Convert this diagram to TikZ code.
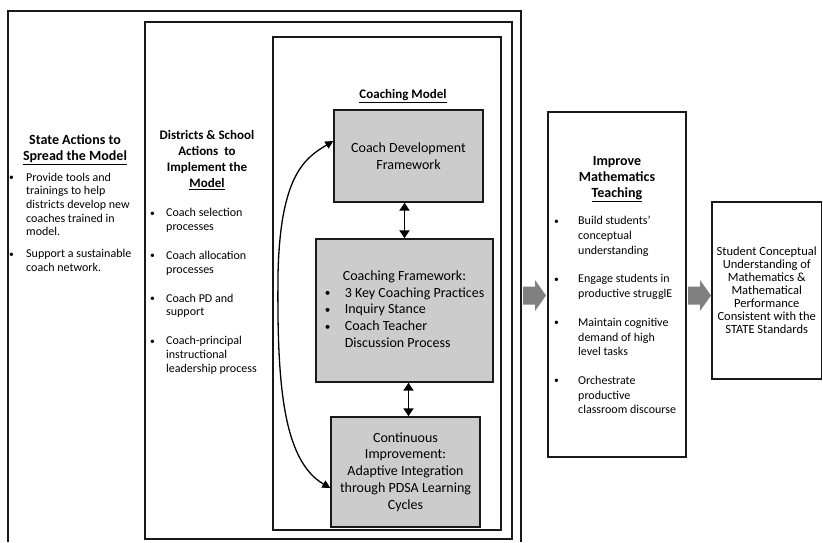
\documentclass[tikz,border=0pt]{standalone}
\usepackage{fontspec}
\setmainfont{Carlito}
\usetikzlibrary{arrows.meta}
\newcommand\mybul{\raisebox{0.5pt}{\scalebox{0.8}{\textbullet}}}
\begin{document}
\begin{tikzpicture}[x=1pt,y=-1pt,
  frame/.style={draw=black!90,line width=1.4pt},
  graybox/.style={draw=black!90,line width=1.4pt,fill=black!20,inner sep=0pt,align=center,font=\fontsize{14}{16.8}\selectfont},
  whitebox/.style={draw=black!90,line width=1.4pt,fill=white,inner sep=0pt,align=center},
  ttl/.style={inner sep=0pt,anchor=base,font=\bfseries\fontsize{14}{16}\selectfont},
  lst/.style={inner sep=0pt,anchor=base west,font=\fontsize{12}{13.6}\selectfont},
  conn/.style={line width=1.9pt,{Triangle[length=8pt,width=10pt]}-{Triangle[length=8pt,width=10pt]}},
  curv/.style={line width=1.3pt,{Triangle[length=8pt,width=8pt]}-{Triangle[length=8pt,width=8pt]}},
  blk/.style={fill=black!50,draw=none}]

\useasboundingbox (0,0) rectangle (823,542);
\fill[white] (0,0) rectangle (823,542);

% frames
\draw[frame] (8,542) -- (8,11) -- (521,11) -- (521,542);
\draw[frame] (145,22) rectangle (512,539);
\draw[frame] (273,37) rectangle (501,530);

% State column
\node[ttl] (stateT) at (75,144.6) {\begin{tabular}[t]{@{}c@{}}State Actions to\\ \underline{Spread the Model}\end{tabular}};
\node[lst] (stateL) at (9,181.2) {\begin{tabular}[t]{@{}p{17pt}@{}l@{}}
\mybul & Provide tools and\\
 & trainings to help\\
 & districts develop new\\
 & coaches trained in\\
 & model.\\[8.5pt]
\mybul & Support a sustainable\\
 & coach network.
\end{tabular}};

% Districts column
\node[ttl,font=\bfseries\fontsize{13}{16}\selectfont] (distT) at (207,139.3) {\begin{tabular}[t]{@{}c@{}}Districts \& School\\ Actions\ \ to\\ Implement the\\ \underline{Model}\end{tabular}};
\node[lst,font=\fontsize{12}{13.8}\selectfont] (distL) at (150,216.8) {\begin{tabular}[t]{@{}p{16pt}@{}l@{}}
\mybul & Coach selection\\
 & processes\\[15pt]
\mybul & Coach allocation\\
 & processes\\[15pt]
\mybul & Coach PD and\\
 & support\\[15pt]
\mybul & Coach-principal\\
 & instructional\\
 & leadership process
\end{tabular}};

% Coaching model
\node[ttl,font=\bfseries\fontsize{13}{16}\selectfont] (cmT) at (403,98.2) {\underline{Coaching Model}};
\node[graybox,minimum width=149pt,minimum height=92pt] (cdf) at (408.5,156) {Coach Development\\Framework};
\node[graybox,minimum width=177pt,minimum height=143pt] (cf) at (404.5,310.5) {\begin{tabular}{@{}p{20pt}@{}l@{}}
\multicolumn{2}{c}{Coaching Framework:}\\
\mybul & 3 Key Coaching Practices\\
\mybul & Inquiry Stance\\
\mybul & Coach Teacher\\
 & Discussion Process
\end{tabular}};
\node[graybox,minimum width=149pt,minimum height=110pt] (ci) at (405.5,472) {Continuous\\Improvement:\\Adaptive Integration\\through PDSA Learning\\Cycles};

\draw[conn] (cdf.south -| cf.north) -- (cf.north);
\draw[conn] (cf.south -| cdf.south) -- (ci.north -| cdf.south);
\coordinate (mid) at (278,275);
\draw[curv] ([yshift=15pt]cdf.west) .. controls (305,158) and (280,175) .. (mid)
  .. controls (277,380) and (282,460) .. ([yshift=-16pt]ci.west);

% Improve column
\node[whitebox,minimum width=138pt,minimum height=345pt] (imp) at (617,284.5) {};
\node[ttl] (impT) at (617,165.5) {\begin{tabular}[t]{@{}c@{}}Improve\\ Mathematics\\ \underline{Teaching}\end{tabular}};
\node[lst,font=\fontsize{12}{14.7}\selectfont] (impL) at (554,224.8) {\begin{tabular}[t]{@{}p{24pt}@{}l@{}}
\mybul & Build students’\\
 & conceptual\\
 & understanding\\[14pt]
\mybul & Engage students in\\
 & productive strugglE\\[14pt]
\mybul & Maintain cognitive\\
 & demand of high\\
 & level tasks\\[14pt]
\mybul & Orchestrate\\
 & productive\\
 & classroom discourse
\end{tabular}};

% Student box
\node[whitebox,minimum width=109.5pt,minimum height=177pt,font=\fontsize{12.5}{13}\selectfont] (stu) at (766.75,290.5) {Student Conceptual\\Understanding of\\Mathematics \&\\Mathematical\\Performance\\Consistent with the\\STATE Standards};

% block arrows
\coordinate (a1) at (523,295.5);
\fill[blk] (a1) -- ++(0,-9) -- ++(12,0) -- ++(0,-6.5) -- ++(11,15.5) -- ++(-11,15.5) -- ++(0,-6.5) -- ++(-12,0) -- cycle;
\coordinate (a2) at (688,295.5);
\fill[blk] (a2) -- ++(0,-9) -- ++(12,0) -- ++(0,-6.5) -- ++(11,15.5) -- ++(-11,15.5) -- ++(0,-6.5) -- ++(-12,0) -- cycle;
\end{tikzpicture}
\end{document}
